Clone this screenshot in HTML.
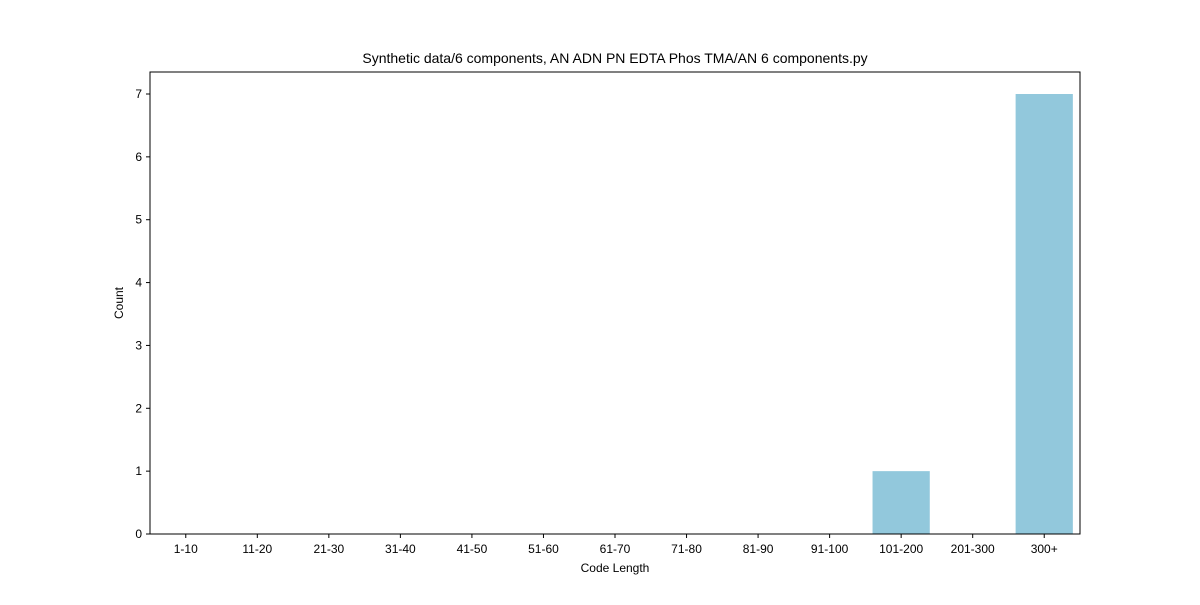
<!DOCTYPE html>
<html><head><meta charset="utf-8"><style>
body{margin:0;background:#fff}
svg text{font-family:"Liberation Sans",sans-serif;fill:#000}
</style></head><body>
<svg id="chart" width="1200" height="600" xmlns="http://www.w3.org/2000/svg">
<rect width="1200" height="600" fill="#fff"/>
<text x="615" y="63" font-size="14" text-anchor="middle">Synthetic data/6 components, AN ADN PN EDTA Phos TMA/AN 6 components.py</text>
<g id="bars"></g>
<g id="yticks"></g>
<g id="xticks"></g>
<rect x="150" y="72" width="930" height="462" fill="none" stroke="#000" stroke-width="1"/>
<text x="615" y="572" font-size="12" text-anchor="middle">Code Length</text>
<text x="123" y="303" font-size="12" text-anchor="middle" transform="rotate(-90 123 303)">Count</text>
</svg>
<script>
const categories=["1-10","11-20","21-30","31-40","41-50","51-60","61-70","71-80","81-90","91-100","101-200","201-300","300+"];
const counts=[0,0,0,0,0,0,0,0,0,0,1,0,7];
const yTicks=[0,1,2,3,4,5,6,7];
const L=150,R=1080,T=72,B=534,yMax=7.35;
const NS="http://www.w3.org/2000/svg";
const bw=(R-L)/categories.length;
const xs=i=>L+(i+0.5)*bw;
const ys=v=>B-(v/yMax)*(B-T);
const bars=document.getElementById('bars'),yt=document.getElementById('yticks'),xt=document.getElementById('xticks');
function mk(t,a){const e=document.createElementNS(NS,t);for(const k in a)e.setAttribute(k,a[k]);return e;}
categories.forEach((c,i)=>{
  const v=counts[i];
  if(v>0){
    const r=mk('rect',{x:xs(i)-bw*0.4,y:ys(v),width:bw*0.8,height:ys(0)-ys(v),fill:'#92c8dc'});
    
    
    bars.appendChild(r);
  }
  const l=mk('line',{x1:xs(i),x2:xs(i),y1:B,y2:B+4,stroke:'#000'});
  
  
  xt.appendChild(l);
  const t=mk('text',{x:xs(i),y:B+19,'font-size':12,'text-anchor':'middle'});
  t.textContent=c;
  
  
  xt.appendChild(t);
});
yTicks.forEach(v=>{
  const l=mk('line',{x1:L-4,x2:L,y1:ys(v),y2:ys(v),stroke:'#000'});
  
  
  yt.appendChild(l);
  const t=mk('text',{x:L-8,y:ys(v)+4,'font-size':12,'text-anchor':'end'});
  t.textContent=v;
  
  
  yt.appendChild(t);
});
</script>
</body></html>
